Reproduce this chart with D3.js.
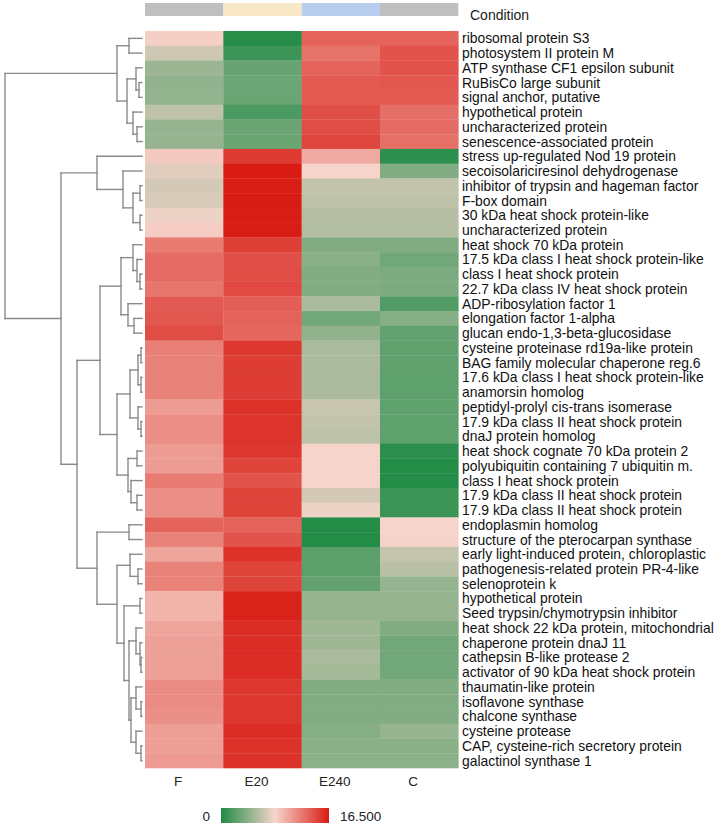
<!DOCTYPE html>
<html><head><meta charset="utf-8">
<script src="https://cdn.jsdelivr.net/npm/d3@7"></script>
<style>body{margin:0;background:#fff;}svg{display:block;font-family:"Liberation Sans",Arial,sans-serif;}</style>
</head><body>
<svg id="chart" width="714" height="829"></svg>
<script>
const columns = ["F","E20","E240","C"];
const conditionColors = ["#bfbfbf","#f8e8c6","#b9cdef","#bfbfbf"];
const rowLabels = [
"ribosomal protein S3","photosystem II protein M","ATP synthase CF1 epsilon subunit","RuBisCo large subunit",
"signal anchor, putative","hypothetical protein","uncharacterized protein","senescence-associated protein",
"stress up-regulated Nod 19 protein","secoisolariciresinol dehydrogenase","inhibitor of trypsin and hageman factor","F-box domain",
"30 kDa heat shock protein-like","uncharacterized protein","heat shock 70 kDa protein","17.5 kDa class I heat shock protein-like",
"class I heat shock protein","22.7 kDa class IV heat shock protein","ADP-ribosylation factor 1","elongation factor 1-alpha",
"glucan endo-1,3-beta-glucosidase","cysteine proteinase rd19a-like protein","BAG family molecular chaperone reg.6","17.6 kDa class I heat shock protein-like",
"anamorsin homolog","peptidyl-prolyl cis-trans isomerase","17.9 kDa class II heat shock protein","dnaJ protein homolog",
"heat shock cognate 70 kDa protein 2","polyubiquitin containing 7 ubiquitin m.","class I heat shock protein","17.9 kDa class II heat shock protein",
"17.9 kDa class II heat shock protein","endoplasmin homolog","structure of the pterocarpan synthase","early light-induced protein, chloroplastic",
"pathogenesis-related protein PR-4-like","selenoprotein k","hypothetical protein","Seed trypsin/chymotrypsin inhibitor",
"heat shock 22 kDa protein, mitochondrial","chaperone protein dnaJ 11","cathepsin B-like protease 2","activator of 90 kDa heat shock protein",
"thaumatin-like protein","isoflavone synthase","chalcone synthase","cysteine protease",
"CAP, cysteine-rich secretory protein","galactinol synthase 1"];
const valuesF = [8.5,6.7,4.8,4.4,4.5,6.1,4.6,4.6,8.8,7.4,6.9,7.1,7.9,8.6,12.2,12.9,12.9,12.5,13.7,13.8,14.3,12.0,11.95,11.9,11.9,10.8,11.4,11.4,10.8,10.8,12.2,11.4,11.4,13.3,11.95,10.4,11.95,11.95,9.7,9.7,10.4,10.6,10.6,10.6,11.5,11.5,11.3,10.7,10.7,10.85];
const valuesE20 = [0.3,1.1,2.8,3.0,2.9,1.7,2.9,2.9,15.1,16.5,16.4,16.4,16.4,16.4,14.85,14.2,14.3,14.4,13.5,13.3,13.1,15.2,15.0,15.0,15.0,15.5,15.4,15.4,15.2,14.7,14.0,14.7,14.7,13.3,14.0,15.5,14.7,14.7,16.2,16.2,15.7,15.7,15.7,15.7,15.3,15.3,15.3,15.7,15.5,15.5];
const valuesE240 = [13.3,12.6,13.3,13.7,13.7,14.2,14.2,14.6,10.2,8.3,6.2,6.1,5.8,5.7,3.8,4.1,3.8,3.8,5.4,3.2,4.4,5.3,5.4,5.4,5.4,6.5,6.2,6.1,8.3,8.3,8.3,6.9,7.9,0.15,0.15,2.3,2.3,2.6,4.6,4.6,4.9,4.9,5.3,5.1,3.8,3.8,3.8,4.0,4.1,4.2];
const valuesC = [13.3,14.0,14.0,13.8,13.7,12.8,12.9,12.75,0.5,3.8,6.2,6.1,5.8,5.7,3.8,3.2,3.6,3.6,1.9,4.0,2.6,2.5,2.5,2.4,2.4,2.4,2.4,2.4,0.5,0.15,0.15,1.1,1.1,8.3,8.35,6.3,5.9,4.6,4.6,4.6,3.8,3.2,3.2,3.2,3.8,3.8,3.8,4.6,4.1,4.2];
const colorDomain = [0, 8.25, 16.5];
const colorRange = ["#1f8b45","#f6d5cc","#d81b13"];
const legendTicks = ["0","16.500"];
// hclust-style merge list: negative = leaf (row index+1), positive = earlier merge (1-based); third = height
const merges = [
[-4,-5,3],[-3,1,6],[-7,-8,5],[-6,3,9],[2,4,15],[-1,-2,13],[6,5,25],
[-11,-12,2],[-13,-14,2],[8,9,9],[-10,10,19],[-9,11,45],
[-17,-18,2],[-16,13,5],[-15,14,9],[-20,-21,8],[-19,16,14],[15,17,21],
[-22,-23,1],[-24,-25,1],[19,20,4],[-27,-28,1],[-26,22,4],[21,23,12],
[-29,-30,5],[-32,-33,5],[-31,26,11],[25,27,14],[24,28,25],[18,29,42],
[-34,-35,13],[-37,-38,4],[-36,32,12],[-39,-40,2],[-43,-44,1],[-42,35,2],[-41,36,6],
[-46,-47,1],[-45,38,6],[-49,-50,1],[-48,40,6],[39,41,11],[37,42,13],[34,43,18],[33,44,25],[31,45,45],
[30,46,65],[12,47,81],[7,48,137]];

const svg = d3.select("#chart");
const hx0 = 145, hx1 = 458.3, hy0 = 31, hy1 = 768;
const x = d3.scaleBand().domain(columns).range([hx0, hx1]);
const y = d3.scaleBand().domain(d3.range(rowLabels.length)).range([hy0, hy1]);
const color = d3.scaleLinear().domain(colorDomain).range(colorRange).interpolate(d3.interpolateRgb);
const series = [valuesF, valuesE20, valuesE240, valuesC];

// condition bar
svg.append("g").selectAll("rect").data(columns).join("rect")
  .attr("x", d => x(d)).attr("y", 3).attr("width", x.bandwidth()).attr("height", 13)
  .attr("fill", (d,i) => conditionColors[i]);
svg.append("text").attr("x", 470).attr("y", 20).attr("font-size", 14).attr("fill", "#222").text("Condition");

// cells
const cells = [];
series.forEach((s, ci) => s.forEach((v, ri) => cells.push({c: columns[ci], r: ri, v})));
svg.append("g").selectAll("rect").data(cells).join("rect")
  .attr("x", d => x(d.c)).attr("y", d => y(d.r)).attr("width", x.bandwidth() + 0.3).attr("height", y.bandwidth() + 0.3)
  .attr("fill", d => color(d.v));

// row labels
svg.append("g").selectAll("text").data(rowLabels).join("text")
  .attr("x", 462).attr("y", (d,i) => y(i) + y.bandwidth()/2).attr("dy", "0.36em")
  .attr("font-size", 13.9).attr("fill", "#111").text(d => d);

// column labels
svg.append("g").selectAll("text").data(columns).join("text")
  .attr("x", d => x(d) + x.bandwidth()/2 - 6).attr("y", 786).attr("text-anchor", "middle")
  .attr("font-size", 13.5).attr("fill", "#222").text(d => d);

// dendrogram
const maxH = d3.max(merges, m => m[2]);
const hScale = d3.scaleLinear().domain([0, maxH]).range([142, 5]);
const nodes = [];
function getNode(id) {
  if (id < 0) { const r = -id - 1; return {x: hScale(0), y: y(r) + y.bandwidth()/2}; }
  return nodes[id - 1];
}
const segs = [];
merges.forEach(m => {
  const a = getNode(m[0]), b = getNode(m[1]);
  const nx = hScale(m[2]);
  segs.push([nx, a.y, nx, b.y], [nx, a.y, a.x, a.y], [nx, b.y, b.x, b.y]);
  nodes.push({x: nx, y: (a.y + b.y)/2});
});
svg.append("g").selectAll("line").data(segs).join("line")
  .attr("x1", d => d[0]).attr("y1", d => d[1]).attr("x2", d => d[2]).attr("y2", d => d[3])
  .attr("stroke", "#8a8a8a").attr("stroke-width", 1.4).attr("stroke-linecap", "square");

// legend
const defs = svg.append("defs");
const grad = defs.append("linearGradient").attr("id", "lg");
grad.selectAll("stop").data(colorDomain).join("stop")
  .attr("offset", d => (d - colorDomain[0]) / (colorDomain[2] - colorDomain[0]))
  .attr("stop-color", d => color(d));
const lx = d3.scaleLinear().domain([colorDomain[0], colorDomain[2]]).range([221, 329]);
svg.append("rect").attr("x", lx(colorDomain[0])).attr("y", 808).attr("width", lx(colorDomain[2]) - lx(colorDomain[0])).attr("height", 15).attr("fill", "url(#lg)");
svg.append("text").attr("x", 210).attr("y", 821).attr("text-anchor", "end").attr("font-size", 13.5).attr("fill", "#222").text(legendTicks[0]);
svg.append("text").attr("x", 340).attr("y", 821).attr("font-size", 13.5).attr("fill", "#222").text(legendTicks[1]);
</script>
</body></html>
